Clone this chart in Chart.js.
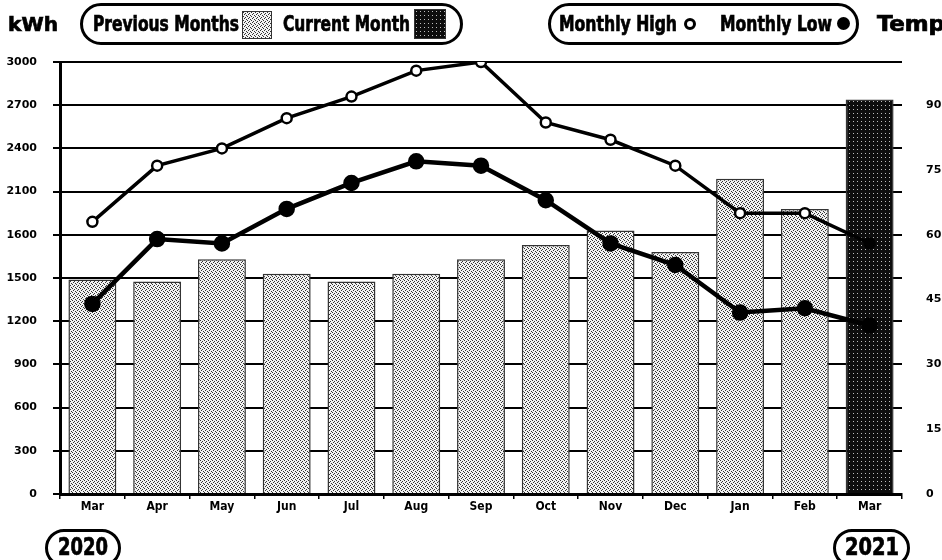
<!DOCTYPE html>
<html>
<head>
<meta charset="utf-8">
<script src="https://cdn.jsdelivr.net/npm/chart.js@4.4.1/dist/chart.umd.min.js"></script>
<style>
body{margin:0;background:#fff;}
#wrap{position:relative;width:942px;height:560px;overflow:hidden;color:#000;
  font-family:'DejaVu Sans Condensed','DejaVu Sans',sans-serif;font-weight:bold;}
#wrap canvas{position:absolute;left:0;top:0;}
.lbl{position:absolute;white-space:nowrap;font-size:21px;line-height:24px;transform-origin:0 0;-webkit-text-stroke:0.7px #000;}
.box{position:absolute;border:3px solid #000;box-sizing:border-box;border-radius:21px;}
.sw{position:absolute;border:1px solid #333;box-sizing:border-box;}
.dot{position:absolute;border-radius:50%;box-sizing:border-box;background:#000;}
</style>
</head>
<body>
<div id="wrap">
  <canvas id="energy_chart" width="942" height="560"></canvas>

  <div class="lbl" data-w="50" style="left:8px;top:12px;font-family:'DejaVu Sans',sans-serif;font-size:20px;">kWh</div>

  <div class="box" style="left:80px;top:3px;width:383px;height:42px;"></div>
  <div class="lbl" data-w="146" style="left:93px;top:12px;">Previous Months</div>
  <div class="sw" id="sw_prev" style="left:242px;top:11px;width:30px;height:28px;"></div>
  <div class="lbl" data-w="127" style="left:283px;top:12px;">Current Month</div>
  <div class="sw" id="sw_cur" style="left:414px;top:9px;width:32px;height:30px;"></div>

  <div class="box" style="left:548px;top:3px;width:311px;height:42px;"></div>
  <div class="lbl" data-w="118" style="left:559px;top:12px;">Monthly High</div>
  <div class="dot" style="left:684px;top:18px;width:12px;height:12px;border:3.5px solid #000;background:#fff;"></div>
  <div class="lbl" data-w="112" style="left:720px;top:12px;">Monthly Low</div>
  <div class="dot" style="left:837px;top:17px;width:13px;height:13px;"></div>

  <div class="lbl" data-w="68" style="left:877px;top:12px;">Temp</div>

  <div class="box" style="left:45px;top:529px;width:76px;height:38px;border-radius:19px;"></div>
  <div class="lbl" data-w="50" style="left:58px;top:533px;font-size:24px;line-height:28px;">2020</div>
  <div class="box" style="left:833px;top:529px;width:77px;height:38px;border-radius:19px;"></div>
  <div class="lbl" data-w="54" style="left:845px;top:533px;font-size:24px;line-height:28px;">2021</div>
</div>
<script>
// monthly energy use and temperatures, Mar 2020 - Mar 2021
var months = ['Mar','Apr','May','Jun','Jul','Aug','Sep','Oct','Nov','Dec','Jan','Feb','Mar'];
var kwh_values = [1490,1475,1630,1530,1475,1530,1630,1730,1830,1680,2190,1980,2740];
var temp_high = [63,76,80,87,92,98,100,86,82,76,65,65,58];
var temp_low = [44,59,58,66,72,77,76,68,58,53,42,43,39];
var kwh_ticks = [0,300,600,900,1200,1500,1800,2100,2400,2700,3000];
var kwh_tick_labels = ['0','300','600','900','1200','1500','1600','2100','2400','2700','3000'];
var temp_ticks = [0,15,30,45,60,75,90];

// squeeze the legend texts to the condensed widths of the original
document.querySelectorAll('.lbl[data-w]').forEach(function(el){
	var w = el.getBoundingClientRect().width;
	el.style.transform = 'scaleX(' + (parseFloat(el.dataset.w) / w) + ')';
});

function make_pattern(bg, fg, dots){
	var c = document.createElement('canvas');
	c.width = 4; c.height = 4;
	var g = c.getContext('2d');
	g.fillStyle = bg;
	g.fillRect(0,0,4,4);
	g.fillStyle = fg;
	dots.forEach(function(d){ g.fillRect(d[0],d[1],1,1); });
	return c;
}

var prev_canvas = make_pattern('#f2f2f2','#333',[[0,0],[2,1],[1,2],[3,3]]);
var cur_canvas = make_pattern('#0d0d0d','#bdbdbd',[[1,1]]);
var ctx = document.getElementById('energy_chart').getContext('2d');
var prev_fill = ctx.createPattern(prev_canvas,'repeat');
var cur_fill = ctx.createPattern(cur_canvas,'repeat');

document.getElementById('sw_prev').style.background = 'url(' + prev_canvas.toDataURL() + ')';
document.getElementById('sw_cur').style.background = 'url(' + cur_canvas.toDataURL() + ')';

var last = months.length - 1;
var bar_bg = months.map(function(m, i){ return i == last ? cur_fill : prev_fill; });
var high_fill = months.map(function(m, i){ return i == last ? '#000' : '#fff'; });

var num_font = {family:"'DejaVu Sans', sans-serif", size:11, weight:'bold'};
var month_font = {family:"'DejaVu Sans Condensed', sans-serif", size:12, weight:'bold'};

var chart = new Chart(ctx, {
	type : 'bar',
	data : {
		labels : months,
		datasets : [{
			type : 'line',
			label : 'Monthly High',
			data : temp_high,
			yAxisID : 'y1',
			borderColor : '#000',
			borderWidth : 3.5,
			pointRadius : 5,
			pointBorderWidth : 2.5,
			pointBackgroundColor : high_fill,
			pointBorderColor : '#000',
			tension : 0,
			order : 1
		},{
			type : 'line',
			label : 'Monthly Low',
			data : temp_low,
			yAxisID : 'y1',
			borderColor : '#000',
			borderWidth : 4.5,
			pointRadius : 6,
			pointBackgroundColor : '#000',
			pointBorderColor : '#000',
			tension : 0,
			order : 1
		},{
			label : 'kWh',
			data : kwh_values,
			yAxisID : 'y',
			backgroundColor : bar_bg,
			borderColor : '#333',
			borderWidth : 1.5,
			barPercentage : 0.74,
			categoryPercentage : 1,
			order : 2
		}]
	},
	options : {
		responsive : false,
		animation : false,
		layout : { padding : { top : 62, left : 0, right : 0, bottom : 0 } },
		plugins : {
			legend : { display : false },
			tooltip : { enabled : false }
		},
		scales : {
			x : {
				offset : true,
				grid : { drawOnChartArea : false, drawTicks : true, tickLength : 5, color : '#000', lineWidth : 1.5 },
				border : { color : '#000', width : 3 },
				ticks : { color : '#000', font : month_font, padding : 1, maxRotation : 0, autoSkip : false },
				afterFit : function(s){ s.height = 66; }
			},
			y : {
				position : 'left',
				min : 0,
				max : 3000,
				afterBuildTicks : function(s){ s.ticks = kwh_ticks.map(function(v){ return {value : v}; }); },
				ticks : {
					color : '#000',
					font : num_font,
					padding : 16,
					callback : function(v, i){ return kwh_tick_labels[i]; }
				},
				grid : { color : '#000', lineWidth : 2, tickLength : 7 },
				border : { color : '#000', width : 3 },
				afterFit : function(s){ s.width = 60; }
			},
			y1 : {
				position : 'right',
				min : 0,
				max : 100,
				afterBuildTicks : function(s){ s.ticks = temp_ticks.map(function(v){ return {value : v}; }); },
				ticks : { color : '#000', font : num_font, padding : 24 },
				grid : { display : false, drawTicks : false },
				border : { display : false },
				afterFit : function(s){ s.width = 40; }
			}
		}
	}
});
</script>
</body>
</html>
